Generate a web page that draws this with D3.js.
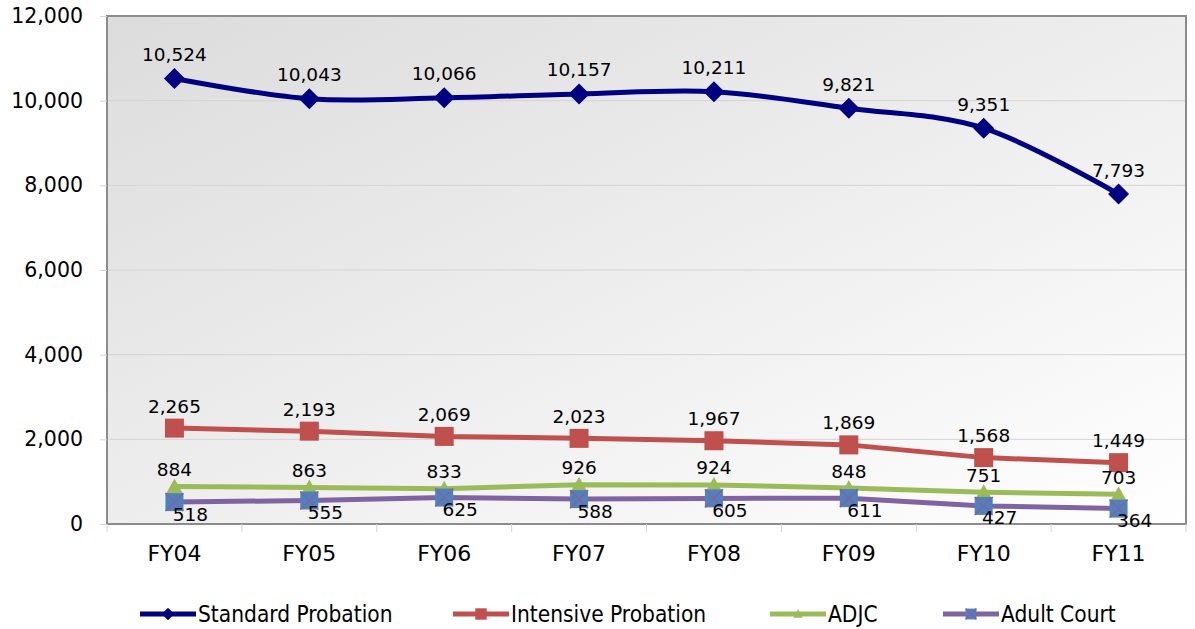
<!DOCTYPE html>
<html>
<head>
<meta charset="utf-8">
<script src="https://cdn.jsdelivr.net/npm/d3@7.9.0/dist/d3.min.js"></script>
<style>
  body { margin: 0; background: #fff; }
  svg text { font-family: "DejaVu Sans", sans-serif; fill: #000; }
  .legend text { font-family: "DejaVu Sans Condensed", "Liberation Sans Narrow", sans-serif; }
</style>
</head>
<body>
<svg id="chart" width="1195" height="629"></svg>
<script>
const years = ['FY04', 'FY05', 'FY06', 'FY07', 'FY08', 'FY09', 'FY10', 'FY11'];
const standard = [10524, 10043, 10066, 10157, 10211, 9821, 9351, 7793];
const intensive = [2265, 2193, 2069, 2023, 1967, 1869, 1568, 1449];
const adjc = [884, 863, 833, 926, 924, 848, 751, 703];
const adultCourt = [518, 555, 625, 588, 605, 611, 427, 364];
const yTicks = [0, 2000, 4000, 6000, 8000, 10000, 12000];

const series = [
  { name: 'Standard Probation', values: standard, color: '#000080', marker: 'diamond', smooth: true, labelDx: 0, labelDy: -24 },
  { name: 'Intensive Probation', values: intensive, color: '#C0504D', marker: 'square', smooth: false, labelDx: 0, labelDy: -22 },
  { name: 'ADJC', values: adjc, color: '#9BBB59', marker: 'triangle', smooth: false, labelDx: 0, labelDy: -17 },
  { name: 'Adult Court', values: adultCourt, color: '#8064A2', marker: 'xsquare', smooth: false, labelDx: 16, labelDy: 12 }
];

const svg = d3.select('#chart');
const area = { left: 107, right: 1186, top: 16, bottom: 524 };

const xScale = d3.scaleBand().domain(years).range([area.left, area.right]);
const yScale = d3.scaleLinear().domain([0, 12000]).range([area.bottom, area.top]);

// background gradient
const defs = svg.append('defs');
const grad = defs.append('linearGradient').attr('id', 'bg')
  .attr('x1', '0').attr('y1', '0').attr('x2', '1').attr('y2', '1');
grad.append('stop').attr('offset', '0%').attr('stop-color', '#dcdcdc');
grad.append('stop').attr('offset', '100%').attr('stop-color', '#ffffff');

svg.append('rect')
  .attr('x', area.left).attr('y', area.top)
  .attr('width', area.right - area.left).attr('height', area.bottom - area.top)
  .attr('fill', 'url(#bg)');

// gridlines
svg.append('g')
  .selectAll('line')
  .data(yTicks.filter(d => d > 0))
  .join('line')
  .attr('x1', area.left).attr('x2', area.right)
  .attr('y1', d => yScale(d)).attr('y2', d => yScale(d))
  .attr('stroke', '#d4d4d4').attr('stroke-width', 1);

// frame
svg.append('rect')
  .attr('x', area.left).attr('y', area.top)
  .attr('width', area.right - area.left).attr('height', area.bottom - area.top)
  .attr('fill', 'none').attr('stroke', '#8c8c8c').attr('stroke-width', 2);

// y axis
const yAxis = d3.axisLeft(yScale).tickValues(yTicks).tickSize(7).tickPadding(8)
  .tickFormat(d3.format(','));
const yg = svg.append('g').attr('transform', `translate(${area.left},0)`).call(yAxis);
yg.select('.domain').remove();
yg.selectAll('line').attr('stroke', '#d4d4d4');
yg.selectAll('text').style('font-size', '20.5px').attr('x', -24);

// x axis
const xg = svg.append('g').attr('transform', `translate(0,${area.bottom})`);
xg.selectAll('line')
  .data(d3.range(years.length + 1))
  .join('line')
  .attr('x1', i => area.left + i * xScale.step()).attr('x2', i => area.left + i * xScale.step())
  .attr('y1', 0).attr('y2', 8)
  .attr('stroke', '#d4d4d4');
xg.selectAll('text')
  .data(years)
  .join('text')
  .attr('x', d => xScale(d) + xScale.bandwidth() / 2)
  .attr('y', 37)
  .attr('text-anchor', 'middle')
  .style('font-size', '22px')
  .text(d => d);

const cx = i => xScale(years[i]) + xScale.bandwidth() / 2;

function drawMarker(g, type, color, x, y, scale = 1) {
  if (type === 'diamond') {
    const s = 10.5 * scale;
    g.append('path').attr('d', `M${x},${y - s}L${x + s},${y}L${x},${y + s}L${x - s},${y}Z`).attr('fill', color);
  } else if (type === 'square') {
    const s = 9.5 * scale;
    g.append('rect').attr('x', x - s).attr('y', y - s).attr('width', 2 * s).attr('height', 2 * s).attr('fill', color);
  } else if (type === 'triangle') {
    const s = 8 * scale;
    g.append('path').attr('d', `M${x},${y - s}L${x + s},${y + s * 0.8}L${x - s},${y + s * 0.8}Z`).attr('fill', color);
  } else if (type === 'xsquare') {
    const s = 9 * scale;
    g.append('rect').attr('x', x - s).attr('y', y - s).attr('width', 2 * s).attr('height', 2 * s).attr('fill', '#4F81BD');
    g.append('path').attr('d', `M${x - s},${y - s}L${x + s},${y + s}M${x + s},${y - s}L${x - s},${y + s}`)
      .attr('stroke', '#8064A2').attr('stroke-width', 1.5);
  }
}

// lines, markers, labels
const fmt = d3.format(',');
series.forEach(s => {
  const line = d3.line()
    .x((d, i) => cx(i))
    .y(d => yScale(d))
    .curve(s.smooth ? d3.curveCardinal.tension(0) : d3.curveLinear);
  svg.append('path')
    .datum(s.values)
    .attr('d', line)
    .attr('fill', 'none')
    .attr('stroke', s.color)
    .attr('stroke-width', 5)
    .attr('stroke-linejoin', 'round');
  const mg = svg.append('g');
  s.values.forEach((v, i) => drawMarker(mg, s.marker, s.color, cx(i), yScale(v)));
});

series.forEach(s => {
  svg.append('g')
    .selectAll('text')
    .data(s.values)
    .join('text')
    .attr('x', (d, i) => cx(i) + s.labelDx)
    .attr('y', d => yScale(d) + s.labelDy)
    .attr('text-anchor', 'middle')
    .attr('dy', '0.35em')
    .style('font-size', '18.5px')
    .text(d => fmt(d));
});

// legend
const legendX = [140, 453, 770, 943];
const legend = svg.append('g').attr('class', 'legend');
series.forEach((s, i) => {
  const x0 = legendX[i];
  const y0 = 614;
  legend.append('line')
    .attr('x1', x0).attr('x2', x0 + 56).attr('y1', y0).attr('y2', y0)
    .attr('stroke', s.color).attr('stroke-width', 5);
  drawMarker(legend, s.marker, s.color, x0 + 28, y0, 0.6);
  legend.append('text')
    .attr('x', x0 + 58).attr('y', y0).attr('dy', '0.35em')
    .style('font-size', '22.5px')
    .text(s.name);
});
</script>
</body>
</html>
